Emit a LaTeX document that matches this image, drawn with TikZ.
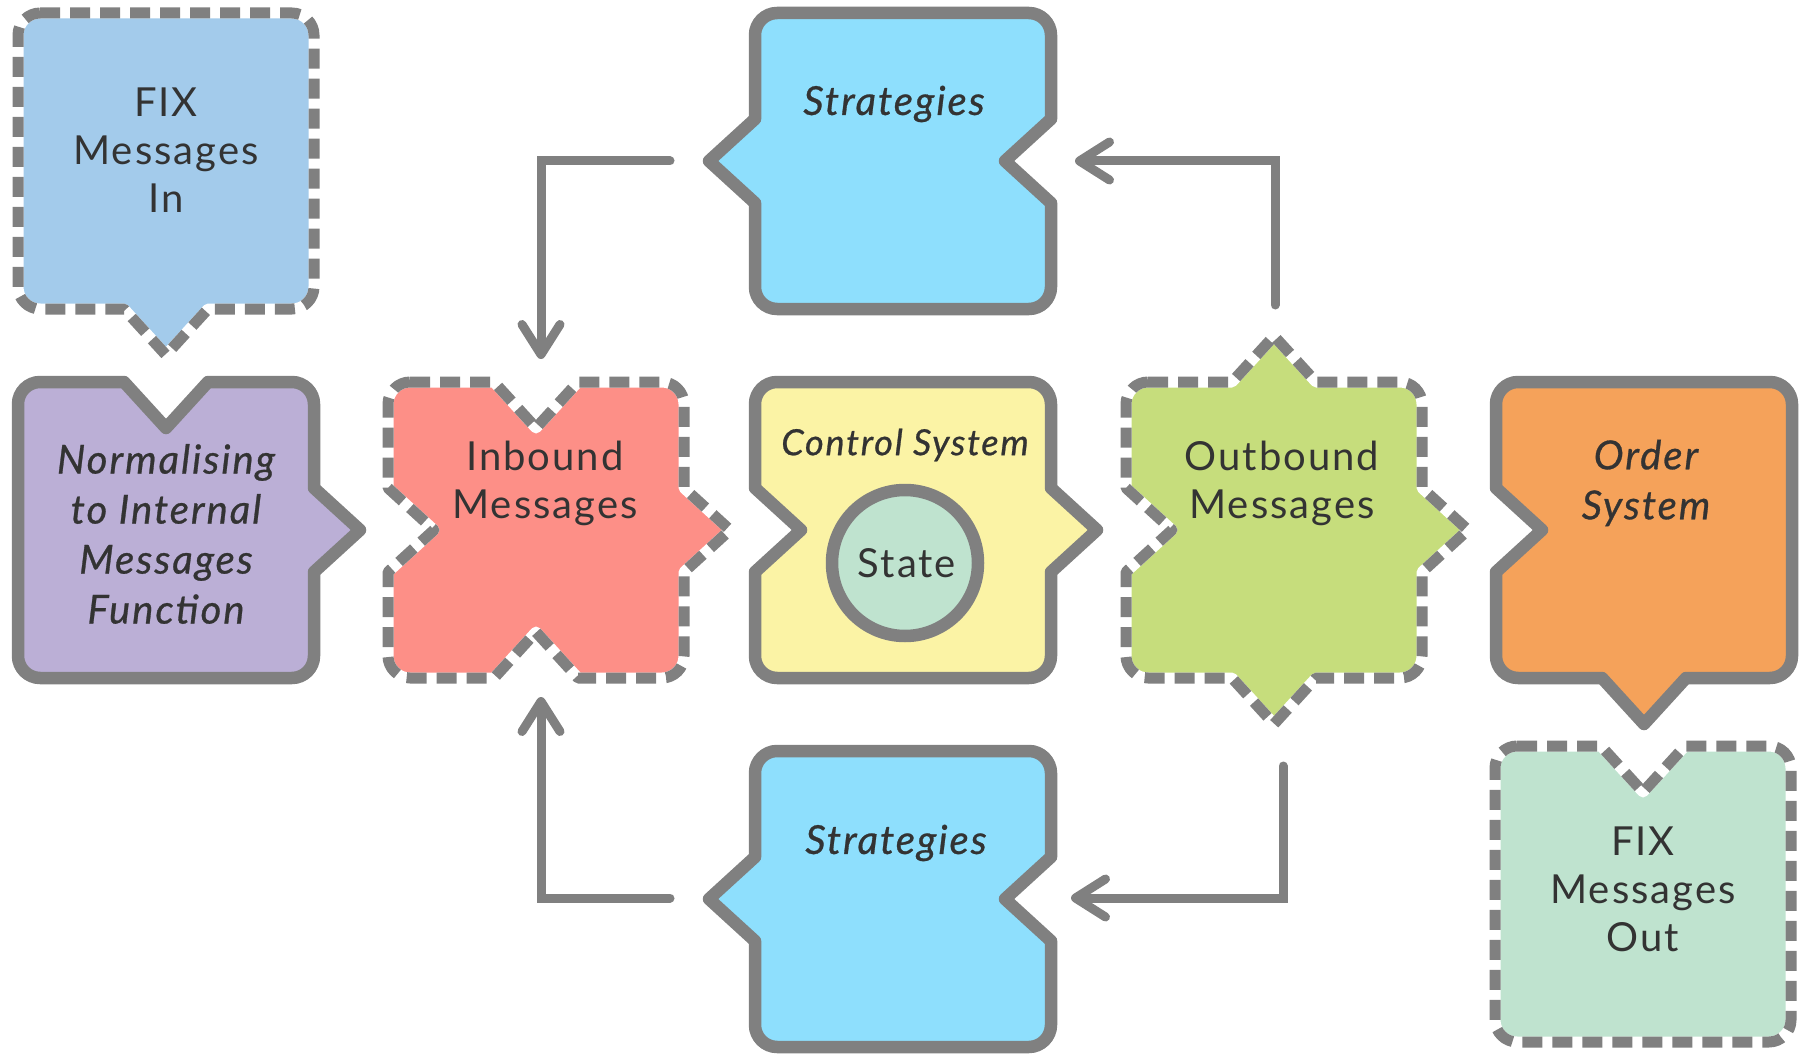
\documentclass[tikz,border=0pt]{standalone}
\usepackage{fontspec}
\setmainfont{Lato}[LetterSpace=5]
\newfontfamily\itfam{Lato}[FakeBold=0.7,LetterSpace=5]
\usetikzlibrary{arrows.meta}
\definecolor{edgec}{HTML}{808080}
\definecolor{textc}{HTML}{333333}
\definecolor{cfixin}{HTML}{A3CBEB}
\definecolor{cnorm}{HTML}{BBAFD6}
\definecolor{cinb}{HTML}{FD8F87}
\definecolor{cctrl}{HTML}{FBF3A5}
\definecolor{cstate}{HTML}{BFE3CF}
\definecolor{coutb}{HTML}{C6DD7C}
\definecolor{corder}{HTML}{F5A25A}
\definecolor{cfixout}{HTML}{BFE3CF}
\definecolor{cstrat}{HTML}{8EDFFD}
% shape path: cx, cy, top, right, bottom, left  (1 = pointer out, -1 = notch in, 0 = flat)
\newcommand{\shp}[6]{%
 ({#1-126},{#2-148}) -- ({#1-42},{#2-148}) -- ({#1},{#2-148-(#3)*46}) -- ({#1+42},{#2-148}) -- ({#1+126},{#2-148})
 .. controls ({#1+138},{#2-148}) and ({#1+148},{#2-138}) .. ({#1+148},{#2-126})
 -- ({#1+148},{#2-42}) -- ({#1+148+(#4)*46},{#2}) -- ({#1+148},{#2+42}) -- ({#1+148},{#2+126})
 .. controls ({#1+148},{#2+138}) and ({#1+138},{#2+148}) .. ({#1+126},{#2+148})
 -- ({#1+42},{#2+148}) -- ({#1},{#2+148+(#5)*46}) -- ({#1-42},{#2+148}) -- ({#1-126},{#2+148})
 .. controls ({#1-138},{#2+148}) and ({#1-148},{#2+138}) .. ({#1-148},{#2+126})
 -- ({#1-148},{#2+42}) -- ({#1-148-(#6)*46},{#2}) -- ({#1-148},{#2-42}) -- ({#1-148},{#2-126})
 .. controls ({#1-148},{#2-138}) and ({#1-138},{#2-148}) .. ({#1-126},{#2-148}) -- cycle}
\newcommand{\solidshape}[7]{%
 \fill[#1] \shp{#2}{#3}{#4}{#5}{#6}{#7};
 \draw[solidedge] \shp{#2}{#3}{#4}{#5}{#6}{#7};}
\newcommand{\dashshape}[7]{%
 \fill[#1] \shp{#2}{#3}{#4}{#5}{#6}{#7};
 \draw[white, line width=5.5pt, line join=round] \shp{#2}{#3}{#4}{#5}{#6}{#7};
 \draw[dashedge] \shp{#2}{#3}{#4}{#5}{#6}{#7};}
\tikzset{
 solidedge/.style={draw=edgec, line width=6.25pt, line join=round},
 dashedge/.style={draw=edgec, line width=5.5pt, line join=round, dash pattern=on 10pt off 5pt},
 txt/.style={text=textc, align=center, inner sep=0pt, font=\fontsize{20}{24}\selectfont},
 itx/.style={text=textc, align=center, inner sep=0pt, font=\itfam\itshape\fontsize{20}{25}\selectfont},
 itsmall/.style={itx, font=\itfam\itshape\fontsize{18}{22}\selectfont},
 conn/.style={draw=edgec, line width=4.5pt, line cap=round,
   -{Straight Barb[length=15pt,width=19pt,round]}}
}
\begin{document}
\begin{tikzpicture}[x=0.5pt,y=-0.5pt]
\useasboundingbox (0,0) rectangle (1806,1054);
% shapes
\dashshape{cfixin}{166}{161}{0}{0}{1}{0}
\solidshape{cnorm}{166}{530}{-1}{1}{0}{0}
\dashshape{cinb}{536}{530}{-1}{1}{-1}{-1}
\solidshape{cctrl}{903}{530}{0}{1}{0}{-1}
\dashshape{coutb}{1274}{530}{1}{1}{1}{-1}
\solidshape{corder}{1644}{530}{0}{0}{1}{-1}
\dashshape{cfixout}{1643}{894}{-1}{0}{0}{0}
\solidshape{cstrat}{903}{161}{0}{-1}{0}{1}
\solidshape{cstrat}{903}{899}{0}{-1}{0}{1}
% state circle
\draw[edgec, line width=6.25pt, fill=cstate] (905,563) circle[radius=36.5pt];
% texts
\node[txt] (tfixin) at (166,150) {FIX\\Messages\\In};
\node[itx] (tnorm) at (166,534) {Normalising\\to Internal\\Messages\\Function};
\node[txt] (tinb) at (545,483) {Inbound\\Messages};
\node[itsmall] (tctrl) at (905,445) {Control System};
\node[txt] (tstate) at (907,563) {State};
\node[txt] (toutb) at (1282,483) {Outbound\\Messages};
\node[itx] (torder) at (1646,483) {Order\\System};
\node[txt] (tfixout) at (1643,889) {FIX\\Messages\\Out};
\node[itx] (tstrat1) at (894,104) {Strategies};
\node[itx] (tstrat2) at (896,843) {Strategies};
% connector end points
\coordinate (a1s) at (670,161);
\coordinate (a1e) at (541,359);
\coordinate (a2s) at (1275,305);
\coordinate (a2e) at (1075,161);
\coordinate (a3s) at (1283,766);
\coordinate (a3e) at (1071,898);
\coordinate (a4s) at (670,898);
\coordinate (a4e) at (541,697);
\draw[conn] (a1s) -| (a1e);
\draw[conn] (a2s) |- (a2e);
\draw[conn] (a3s) |- (a3e);
\draw[conn] (a4s) -| (a4e);
\end{tikzpicture}
\end{document}
